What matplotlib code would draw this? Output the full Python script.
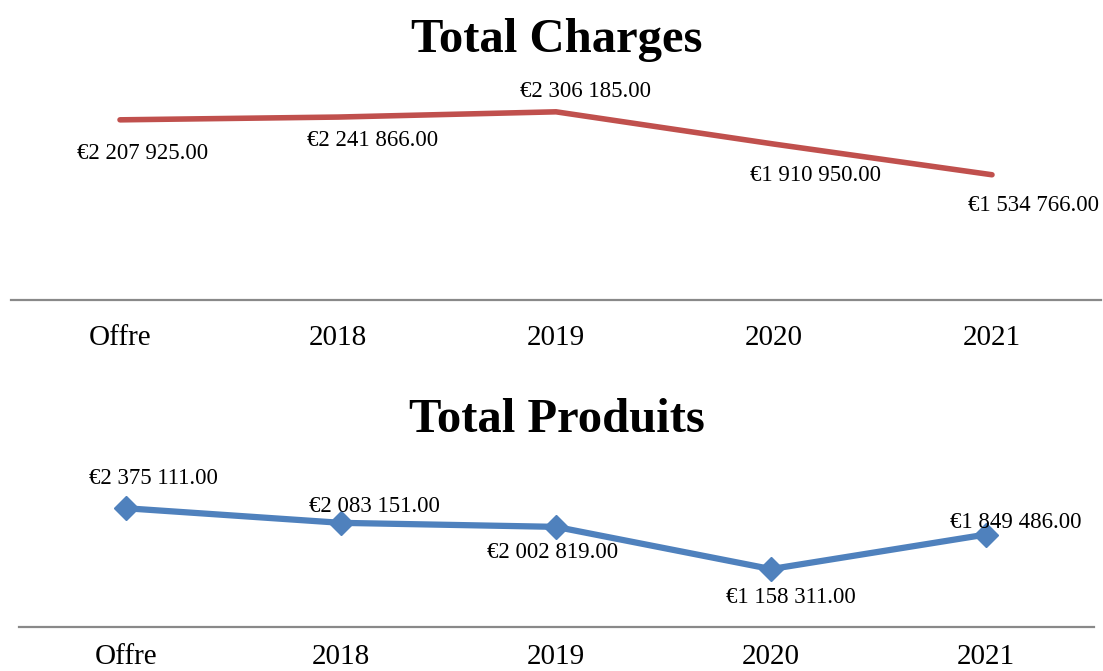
import matplotlib.pyplot as plt

# categories and series values
categories = ["Offre", "2018", "2019", "2020", "2021"]
charges = [2207925, 2241866, 2306185, 1910950, 1534766]
produits = [2375111, 2083151, 2002819, 1158311, 1849486]

# label nudges in pixels (dx, dy) relative to each point
charges_offsets = [(23, -34), (35, -23), (30, 20), (41, -31), (42, -31)]
produits_offsets = [(27, 30), (33, 16), (-3, -26), (20, -28), (30, 12)]

plt.rcParams['font.family'] = ['Liberation Serif', 'DejaVu Serif']


def fmt_eur(v):
    s = f"{v:,.2f}".replace(",", " ")
    return "\u20ac" + s


def draw_panel(ax, values, offsets, color, marker, ymax, lw, pad):
    x = range(len(categories))
    ax.plot(x, values, color=color, linewidth=lw, marker=marker,
            markersize=12, solid_capstyle='round')
    for xi, v, (dx, dy) in zip(x, values, offsets):
        ax.annotate(fmt_eur(v), (xi, v), xytext=(dx, dy),
                    textcoords='offset pixels', ha='center', va='center',
                    fontsize=16.5, color='black')
    ax.set_xlim(-0.5, len(categories) - 0.5)
    ax.set_ylim(0, ymax)
    ax.set_xticks(list(x))
    ax.set_xticklabels(categories, fontsize=21)
    ax.tick_params(axis='x', length=0, pad=pad)
    ax.set_yticks([])
    for side in ('top', 'left', 'right'):
        ax.spines[side].set_visible(False)
    ax.spines['bottom'].set_color('#898989')
    ax.spines['bottom'].set_linewidth(1.6)
    ax.patch.set_alpha(0)


fig = plt.figure(figsize=(11.03, 6.71), dpi=100)
W, H = 1103, 671

ax1 = fig.add_axes([11 / W, 1 - 300 / H, 1090 / W, 204 / H])
draw_panel(ax1, charges, charges_offsets, '#C0504D', None, 2500000, 4, 18)

ax2 = fig.add_axes([18.5 / W, 1 - 627 / H, 1075 / W, 150 / H])
draw_panel(ax2, produits, produits_offsets, '#4F81BD', 'D', 3000000, 4.5, 12)

fig.text(557 / W, 1 - 40 / H, "Total Charges", ha='center', va='center',
         fontsize=35, fontweight='bold')
fig.text(557 / W, 1 - 420 / H, "Total Produits", ha='center', va='center',
         fontsize=35, fontweight='bold')

fig.savefig("out.png", dpi=100)
